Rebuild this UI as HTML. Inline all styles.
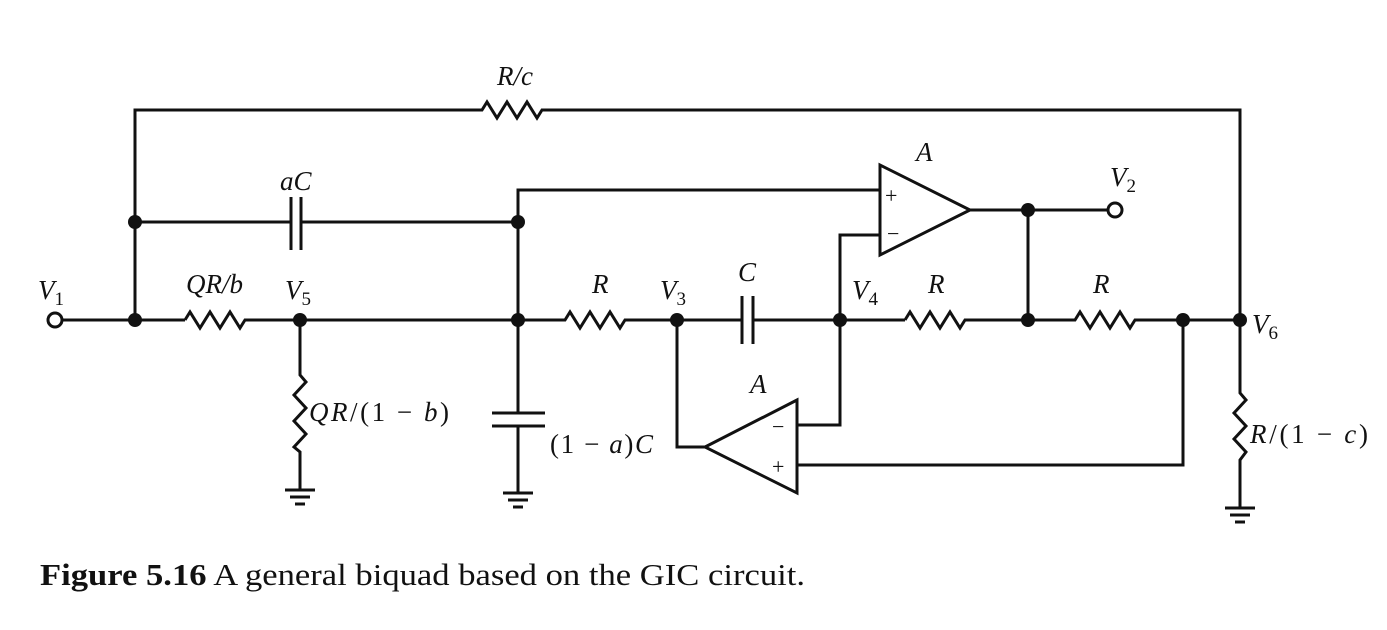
<!DOCTYPE html>
<html><head><style>
body{margin:0;background:#fff;}
svg text{font-family:"Liberation Serif",serif;fill:#111;}
.i{font-style:italic;}
</style></head><body>
<svg width="1387" height="625" viewBox="0 0 1387 625" xmlns="http://www.w3.org/2000/svg">
<g stroke="#111" stroke-width="3" fill="none" stroke-linejoin="miter">
<polyline points="135,320 135,110 482,110 487,102 497,118 507,102 517,118 527,102 537,118 542,110 1240,110 1240,320"/>
<line x1="135" y1="222" x2="290" y2="222"/>
<line x1="302" y1="222" x2="518" y2="222"/>
<line x1="291" y1="197" x2="291" y2="250"/>
<line x1="301" y1="197" x2="301" y2="250"/>
<polyline points="518,320 518,190 880,190"/>
<line x1="62" y1="320" x2="185" y2="320"/>
<polyline points="185,320 190,312 200,328 210,312 220,328 230,312 240,328 245,320 565,320 570,312 580,328 590,312 600,328 610,312 620,328 625,320 742,320"/>
<line x1="753" y1="320" x2="905" y2="320"/>
<line x1="742" y1="296" x2="742" y2="344"/>
<line x1="753" y1="296" x2="753" y2="344"/>
<polyline points="905,320 910,312 920,328 930,312 940,328 950,312 960,328 965,320 1075,320 1080,312 1090,328 1100,312 1110,328 1120,312 1130,328 1135,320 1240,320"/>
<polyline points="300,320 300,375 306,382 294,395 306,408 294,421 306,434 294,447 300,452 300,490"/>
<line x1="285" y1="490" x2="315" y2="490"/><line x1="290" y1="497" x2="310" y2="497"/><line x1="295" y1="504" x2="305" y2="504"/>
<line x1="518" y1="320" x2="518" y2="413"/>
<line x1="492" y1="413" x2="545" y2="413"/>
<line x1="492" y1="426" x2="545" y2="426"/>
<line x1="518" y1="426" x2="518" y2="493"/>
<line x1="503" y1="493" x2="533" y2="493"/><line x1="508" y1="500" x2="528" y2="500"/><line x1="513" y1="507" x2="523" y2="507"/>
<polygon points="880,165 880,255 970,210"/>
<polyline points="840,320 840,235 880,235"/>
<line x1="970" y1="210" x2="1115" y2="210"/>
<line x1="1028" y1="210" x2="1028" y2="320"/>
<polygon points="797,400 797,493 705,447"/>
<polyline points="677,320 677,447 705,447"/>
<polyline points="840,320 840,425 797,425"/>
<polyline points="1183,320 1183,465 797,465"/>
<polyline points="1240,320 1240,393 1246,400 1234,413 1246,426 1234,439 1246,452 1240,460 1240,508"/>
<line x1="1225" y1="508" x2="1255" y2="508"/><line x1="1230" y1="515" x2="1250" y2="515"/><line x1="1235" y1="522" x2="1245" y2="522"/>
</g>
<g fill="#111">
<circle cx="135" cy="222" r="7"/><circle cx="518" cy="222" r="7"/>
<circle cx="135" cy="320" r="7"/><circle cx="300" cy="320" r="7"/><circle cx="518" cy="320" r="7"/>
<circle cx="677" cy="320" r="7"/><circle cx="840" cy="320" r="7"/><circle cx="1028" cy="320" r="7"/>
<circle cx="1183" cy="320" r="7"/><circle cx="1240" cy="320" r="7"/><circle cx="1028" cy="210" r="7"/>
</g>
<circle cx="55" cy="320" r="7" fill="#fff" stroke="#111" stroke-width="3"/>
<circle cx="1115" cy="210" r="7" fill="#fff" stroke="#111" stroke-width="3"/>
<g font-size="27">
<text x="497" y="85" class="i">R/c</text>
<text x="280" y="190" class="i">aC</text>
<text x="38" y="299" class="i">V<tspan font-size="19" dy="6" font-style="normal">1</tspan></text>
<text x="186" y="293" class="i">QR/b</text>
<text x="285" y="299" class="i">V<tspan font-size="19" dy="6" font-style="normal">5</tspan></text>
<text x="592" y="293" class="i">R</text>
<text x="660" y="299" class="i">V<tspan font-size="19" dy="6" font-style="normal">3</tspan></text>
<text x="738" y="281" class="i">C</text>
<text x="852" y="299" class="i">V<tspan font-size="19" dy="6" font-style="normal">4</tspan></text>
<text x="928" y="293" class="i">R</text>
<text x="1093" y="293" class="i">R</text>
<text x="1252" y="333" class="i">V<tspan font-size="19" dy="6" font-style="normal">6</tspan></text>
<text x="1110" y="186" class="i">V<tspan font-size="19" dy="6" font-style="normal">2</tspan></text>
<text x="916" y="161" class="i">A</text>
<text x="750" y="393" class="i">A</text>
<text x="309" y="421" textLength="140"><tspan class="i">QR</tspan>/(1 − <tspan class="i">b</tspan>)</text>
<text x="550" y="453" textLength="103">(1 − <tspan class="i">a</tspan>)<tspan class="i">C</tspan></text>
<text x="1250" y="443" textLength="118"><tspan class="i">R</tspan>/(1 − <tspan class="i">c</tspan>)</text>
</g>
<g font-size="22">
<text x="885" y="203">+</text><text x="887" y="241">−</text>
<text x="772" y="434">−</text><text x="772" y="474">+</text>
</g>
<text x="40" y="585" font-size="31" textLength="765" lengthAdjust="spacingAndGlyphs"><tspan font-weight="bold">Figure 5.16</tspan>  A general biquad based on the GIC circuit.</text>
</svg>
</body></html>
